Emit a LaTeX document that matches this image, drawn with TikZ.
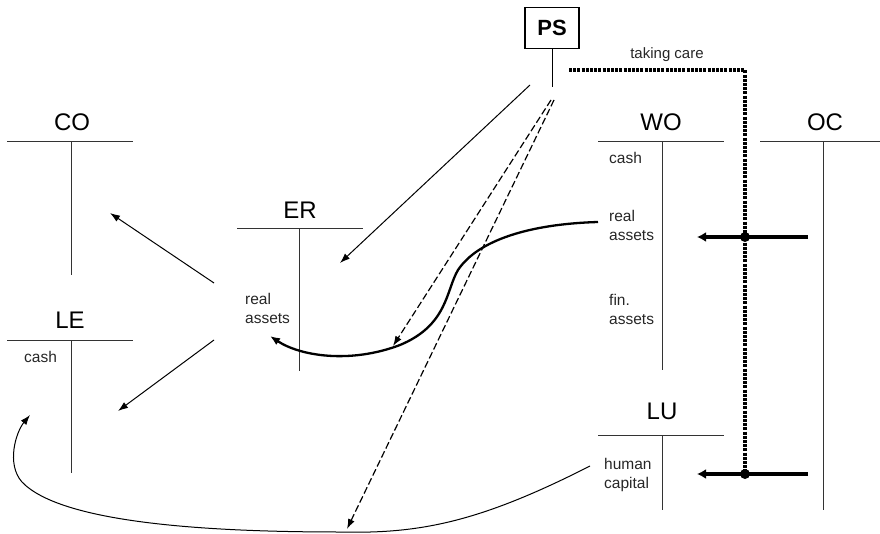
\documentclass[tikz,border=0pt]{standalone}
\usepackage{fontspec}
\setmainfont{Liberation Sans}
\usetikzlibrary{arrows.meta}
\begin{document}
\begin{tikzpicture}[x=1pt,y=-1pt,
  acc/.style={draw=black!80, line width=1pt},
  ttl/.style={font=\fontsize{24}{24}\selectfont, inner sep=0pt},
  lbl/.style={font=\fontsize{15.5}{19}\selectfont, inner sep=0pt, align=left, text=black!85},
  thinarrow/.style={line width=1pt, -{Latex[length=10pt,width=7pt]}},
  dasharrow/.style={line width=1.2pt, dash pattern=on 7pt off 3pt, -{Latex[length=10pt,width=7pt]}},
  thickarrow/.style={line width=3.2pt, -{Latex[length=9pt,width=10pt]}},
  careline/.style={line width=3.6pt, dash pattern=on 3pt off 1.2pt},
  dotn/.style={circle, fill=black, inner sep=0pt, minimum size=10pt}
]
\useasboundingbox (0,0) rectangle (880,534);

% PS box
\node[draw, line width=1.5pt, minimum width=54pt, minimum height=41pt, inner sep=0pt,
      font=\bfseries\fontsize{22}{22}\selectfont] (ps) at (552,28) {PS};
\coordinate (psb) at (552,87);
\draw[line width=1pt] (ps.south) -- (psb);

% T-accounts
% CO
\node[ttl] (co) at (72,122) {CO};
\coordinate (coL) at (7,142); \coordinate (coR) at (133,142);
\coordinate (coT) at (71,142); \coordinate (coB) at (71,275);
\draw[acc] (coL) -- (coR); \draw[acc] (coT) -- (coB);
% LE
\node[ttl] (le) at (70,320) {LE};
\coordinate (leL) at (7,340); \coordinate (leR) at (133,340);
\coordinate (leT) at (71,340); \coordinate (leB) at (71,473);
\draw[acc] (leL) -- (leR); \draw[acc] (leT) -- (leB);
\node[lbl, anchor=west] (lecash) at (24,357) {cash};
% ER
\node[ttl] (er) at (300,210) {ER};
\coordinate (erL) at (237,229); \coordinate (erR) at (363,229);
\coordinate (erT) at (299,229); \coordinate (erB) at (299,371);
\draw[acc] (erL) -- (erR); \draw[acc] (erT) -- (erB);
\node[lbl, anchor=west] (erra) at (245,308) {real\\assets};
% WO
\node[ttl] (wo) at (661,122) {WO};
\coordinate (woL) at (598,142); \coordinate (woR) at (724,142);
\coordinate (woT) at (662,142); \coordinate (woB) at (662,370);
\draw[acc] (woL) -- (woR); \draw[acc] (woT) -- (woB);
\node[lbl, anchor=west] (wocash) at (609,158) {cash};
\node[lbl, anchor=west] (wora) at (609,225) {real\\assets};
\node[lbl, anchor=west] (wofa) at (609,309) {fin.\\assets};
% OC
\node[ttl] (oc) at (825,122) {OC};
\coordinate (ocL) at (760,142); \coordinate (ocR) at (880,142);
\coordinate (ocT) at (823,142); \coordinate (ocB) at (823,510);
\draw[acc] (ocL) -- (ocR); \draw[acc] (ocT) -- (ocB);
% LU
\node[ttl] (lu) at (662,411) {LU};
\coordinate (luL) at (598,435); \coordinate (luR) at (724,435);
\coordinate (luT) at (662,435); \coordinate (luB) at (662,510);
\draw[acc] (luL) -- (luR); \draw[acc] (luT) -- (luB);
\node[lbl, anchor=west] (luhc) at (604,475) {human\\capital};

% taking care
\coordinate (tc1) at (569,70); \coordinate (tc2) at (745,70); \coordinate (tc3) at (745,474);
\draw[careline] (tc1) -- (tc2) -- (tc3);
\node[lbl, font=\fontsize{15}{15}\selectfont] (tclbl) at (667,55) {taking care};

% OC arrows
\node[dotn] (d1) at (745,237) {};
\node[dotn] (d2) at (745,474) {};
\coordinate (oa1s) at (808,237); \coordinate (oa1e) at (697,237);
\coordinate (oa2s) at (808,474); \coordinate (oa2e) at (697,474);
\draw[thickarrow] (oa1s) -- (oa1e);
\draw[thickarrow] (oa2s) -- (oa2e);

% ER arrows to CO and LE
\coordinate (e1s) at (214,283); \coordinate (e1e) at (110,213);
\coordinate (e2s) at (214,340); \coordinate (e2e) at (118,411);
\draw[thinarrow] (e1s) -- (e1e);
\draw[thinarrow] (e2s) -- (e2e);

% PS to ER
\coordinate (p1s) at (530,85); \coordinate (p1e) at (340,263);
\draw[thinarrow] (p1s) -- (p1e);

% dashed arrows
\coordinate (dsa) at (551,100); \coordinate (dea) at (393,346);
\coordinate (dsb) at (554,100); \coordinate (deb) at (347,529);
\draw[dasharrow] (dsa) -- (dea);
\draw[dasharrow] (dsb) -- (deb);

% S-curve from WO real assets to ER real assets
\coordinate (ss) at (598,222); \coordinate (se) at (270,336);
\draw[line width=2.3pt, -{Latex[length=10pt,width=8pt]}]
  (ss) .. controls (530,224) and (478,240) .. (458,270)
       .. controls (446,290) and (448,325) .. (400,345)
       .. controls (350,364) and (300,356) .. (se);

% human capital to LE cash
\coordinate (hs) at (590,466); \coordinate (he) at (30,415);
\draw[line width=1pt, -{Latex[length=10pt,width=7pt]}]
  (hs) .. controls (480,522) and (420,534) .. (340,532)
       .. controls (200,532) and (60,522) .. (22,482)
       .. controls (6,464) and (16,432) .. (he);
\end{tikzpicture}
\end{document}
